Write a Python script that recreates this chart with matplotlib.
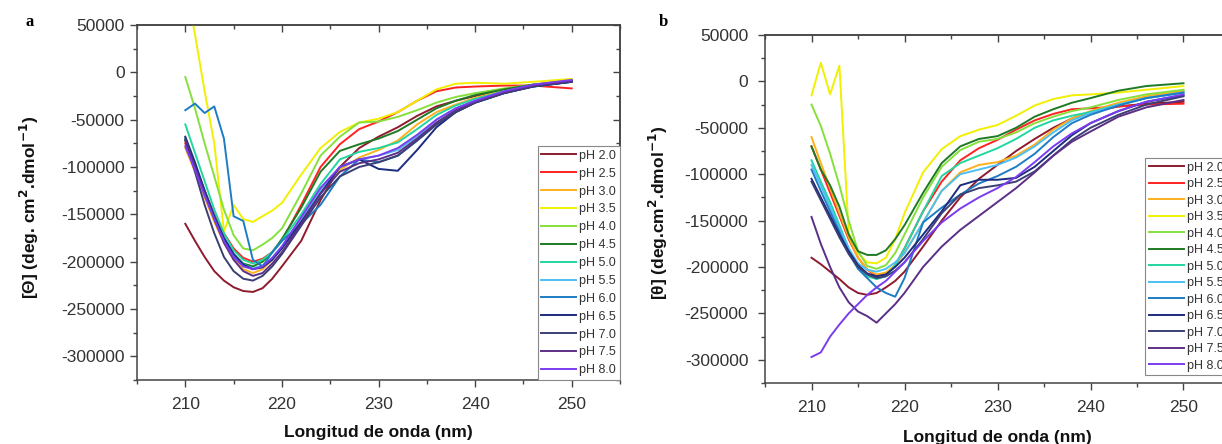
import matplotlib
matplotlib.use("Agg")
import matplotlib.pyplot as plt
from matplotlib.ticker import MultipleLocator, FixedLocator
import numpy as np

plt.rcParams['font.family'] = ['Liberation Sans', 'DejaVu Sans']
plt.rcParams['axes.unicode_minus'] = False

# ---------------- data ----------------
wavelength = [210, 211, 212, 213, 214, 215, 216, 217, 218, 219, 220,
              222, 224, 226, 228, 230, 232, 234, 236, 238, 240, 243, 246, 250]

ph_labels = ["pH 2.0", "pH 2.5", "pH 3.0", "pH 3.5", "pH 4.0", "pH 4.5", "pH 5.0",
             "pH 5.5", "pH 6.0", "pH 6.5", "pH 7.0", "pH 7.5", "pH 8.0"]

ph_colors = ["#8E1B2E", "#FF2222", "#FFB01E", "#F2F000", "#86E03C", "#1F7A24", "#22D6A0",
             "#4CC0F2", "#1E7CC4", "#1C2C7E", "#3B3F74", "#5B2F86", "#7A3CF0"]

# Panel a values (deg.cm2.dmol-1), thousands
a_ph20 = [-160, -178, -195, -210, -220, -227, -231, -232, -228, -218, -205, -178, -135, -100, -80, -68, -58, -46, -36, -30, -25, -19, -14, -9]
a_ph25 = [-75, -100, -125, -150, -170, -186, -196, -200, -197, -190, -178, -140, -100, -76, -60, -52, -42, -30, -20, -16, -15, -14, -14, -17]
a_ph30 = [-80, -105, -132, -158, -180, -197, -208, -212, -208, -198, -185, -155, -125, -103, -90, -82, -72, -55, -42, -34, -27, -19, -13, -8]
a_ph35 = [95, 40, -20, -75, -168, -140, -155, -158, -152, -146, -138, -108, -80, -63, -53, -49, -42, -30, -18, -12, -11, -12, -10, -7]
a_ph40 = [-5, -38, -75, -110, -145, -172, -186, -188, -182, -175, -165, -128, -88, -68, -53, -52, -47, -40, -32, -26, -22, -17, -13, -9]
a_ph45 = [-72, -98, -125, -152, -175, -192, -202, -205, -200, -190, -176, -143, -105, -83, -76, -70, -62, -50, -38, -30, -24, -18, -13, -9]
a_ph50 = [-55, -85, -115, -145, -170, -188, -198, -202, -198, -190, -178, -150, -118, -92, -84, -80, -74, -60, -45, -35, -28, -20, -14, -9]
a_ph55 = [-70, -98, -125, -152, -175, -192, -203, -207, -204, -196, -184, -155, -125, -100, -92, -88, -82, -68, -50, -38, -30, -21, -15, -10]
a_ph60 = [-40, -33, -43, -36, -70, -152, -157, -198, -205, -190, -178, -160, -140, -110, -92, -95, -88, -72, -55, -42, -32, -22, -15, -10]
a_ph65 = [-68, -95, -125, -152, -175, -192, -203, -208, -206, -198, -186, -158, -128, -100, -92, -102, -104, -82, -58, -42, -32, -22, -15, -10]
a_ph70 = [-70, -105, -140, -170, -195, -210, -218, -220, -215, -205, -192, -162, -132, -110, -100, -95, -88, -72, -55, -42, -32, -22, -15, -10]
a_ph75 = [-72, -100, -128, -155, -180, -198, -210, -215, -212, -202, -190, -160, -128, -105, -96, -92, -85, -70, -53, -40, -31, -21, -14, -9]
a_ph80 = [-78, -103, -130, -155, -178, -195, -205, -208, -205, -196, -184, -153, -122, -100, -92, -88, -80, -66, -50, -38, -30, -20, -13, -8]

# Panel b values, thousands
b_ph20 = [-190, -197, -205, -213, -222, -228, -230, -228, -222, -215, -205, -178, -150, -125, -105, -90, -75, -62, -50, -40, -33, -27, -24, -22]
b_ph25 = [-70, -95, -120, -145, -170, -190, -203, -210, -208, -198, -180, -140, -108, -85, -72, -63, -52, -42, -35, -30, -29, -27, -25, -24]
b_ph30 = [-60, -88, -115, -142, -168, -190, -203, -208, -206, -198, -185, -152, -118, -98, -90, -87, -80, -68, -52, -40, -32, -23, -16, -10]
b_ph35 = [-15, 20, -14, 17, -163, -185, -195, -196, -190, -170, -142, -98, -73, -59, -52, -47, -37, -26, -19, -15, -14, -12, -9, -5]
b_ph40 = [-25, -48, -78, -112, -150, -183, -199, -202, -198, -185, -165, -125, -92, -74, -65, -62, -55, -45, -38, -32, -28, -20, -14, -9]
b_ph45 = [-70, -95, -112, -135, -165, -183, -187, -187, -182, -170, -155, -120, -88, -70, -62, -59, -50, -38, -30, -23, -18, -10, -5, -2]
b_ph50 = [-85, -108, -130, -155, -180, -200, -210, -213, -210, -198, -180, -140, -102, -88, -80, -72, -62, -50, -42, -37, -33, -25, -18, -12]
b_ph55 = [-90, -112, -135, -158, -180, -196, -203, -205, -202, -195, -185, -152, -118, -100, -95, -90, -82, -70, -55, -42, -34, -25, -18, -12]
b_ph60 = [-95, -118, -140, -162, -185, -202, -212, -222, -228, -232, -212, -152, -136, -122, -110, -102, -92, -78, -60, -45, -36, -26, -18, -12]
b_ph65 = [-105, -125, -145, -165, -183, -198, -207, -210, -208, -200, -190, -165, -140, -112, -106, -106, -104, -92, -75, -58, -45, -32, -22, -15]
b_ph70 = [-108, -128, -148, -168, -186, -200, -208, -212, -210, -204, -195, -170, -142, -122, -115, -112, -108, -97, -80, -63, -50, -36, -25, -16]
b_ph75 = [-146, -175, -200, -222, -238, -248, -253, -260, -250, -240, -228, -200, -178, -160, -145, -130, -115, -98, -80, -65, -54, -38, -28, -20]
b_ph80 = [-297, -292, -275, -262, -250, -240, -230, -222, -215, -205, -195, -172, -152, -137, -125, -115, -103, -87, -70, -56, -45, -32, -22, -14]

panel_a = [a_ph20, a_ph25, a_ph30, a_ph35, a_ph40, a_ph45, a_ph50, a_ph55, a_ph60, a_ph65, a_ph70, a_ph75, a_ph80]
panel_b = [b_ph20, b_ph25, b_ph30, b_ph35, b_ph40, b_ph45, b_ph50, b_ph55, b_ph60, b_ph65, b_ph70, b_ph75, b_ph80]

x_ticks = [210, 220, 230, 240, 250]
y_ticks = [50000, 0, -50000, -100000, -150000, -200000, -250000, -300000]

# ---------------- figure ----------------
W, H = 1222, 444
fig = plt.figure(figsize=(W / 100, H / 100), dpi=100)


def px_axes(left, top, right, bottom):
    return fig.add_axes([left / W, 1 - bottom / H, (right - left) / W, (bottom - top) / H])


axA = px_axes(137, 25, 620, 380)
axB = px_axes(765, 35, 1230, 383)

spine_col = "#444444"
tick_col = "#333333"


def style(ax, ylabel, pad_y):
    ax.set_xlim(205, 255)
    ax.set_ylim(-325000, 50000)
    ax.xaxis.set_major_locator(FixedLocator(x_ticks))
    ax.xaxis.set_minor_locator(MultipleLocator(5))
    ax.yaxis.set_major_locator(FixedLocator(y_ticks))
    ax.yaxis.set_minor_locator(MultipleLocator(25000))
    ax.set_yticklabels([str(v) for v in y_ticks])
    for s in ax.spines.values():
        s.set_color(spine_col)
        s.set_linewidth(1.1)
    ax.tick_params(which='major', direction='out', length=5, width=1.0, color=spine_col,
                   labelcolor=tick_col, labelsize=12.5)
    ax.tick_params(which='minor', direction='out', length=3, width=1.0, color=spine_col)
    ax.tick_params(axis='x', which='major', pad=7)
    ax.tick_params(axis='y', which='major', pad=pad_y)
    top = ax.secondary_xaxis('top')
    top.xaxis.set_major_locator(FixedLocator(x_ticks))
    top.xaxis.set_minor_locator(MultipleLocator(5))
    top.tick_params(which='major', direction='in', length=5, width=1.0, color=spine_col, labeltop=False)
    top.tick_params(which='minor', direction='in', length=3, width=1.0, color=spine_col)
    top.spines['top'].set_color(spine_col)
    top.spines['top'].set_linewidth(1.1)
    right = ax.secondary_yaxis('right')
    right.yaxis.set_major_locator(FixedLocator(y_ticks))
    right.yaxis.set_minor_locator(MultipleLocator(25000))
    right.tick_params(which='major', direction='in', length=5, width=1.0, color=spine_col, labelright=False)
    right.tick_params(which='minor', direction='in', length=3, width=1.0, color=spine_col)
    right.spines['right'].set_color(spine_col)
    right.spines['right'].set_linewidth(1.1)
    ax.set_xlabel("Longitud de onda (nm)", fontsize=12.5, fontweight='bold', color='#111111')
    ax.set_ylabel(ylabel, fontsize=12.5, fontweight='bold', color='#111111')


style(axA, "[\u0398] (deg. cm$^{\\mathbf{2}}$.dmol$^{\\mathbf{-1}}$)", 4)
style(axB, "[\u03b8] (deg.cm$^{\\mathbf{2}}$.dmol$^{\\mathbf{-1}}$)", 7)

for ax, data in ((axA, panel_a), (axB, panel_b)):
    for vals, lab, col in zip(data, ph_labels, ph_colors):
        ax.plot(wavelength, np.array(vals) * 1000, color=col, lw=1.4, label=lab,
                solid_joinstyle='round')

axA.yaxis.set_label_coords(-0.199, 0.485)
axA.xaxis.set_label_coords(0.5, -0.127)
axB.yaxis.set_label_coords(-0.204, 0.489)
axB.xaxis.set_label_coords(0.5, -0.135)

leg_kw = dict(fontsize=9, handlelength=2.8, handletextpad=0.25,
              borderpad=0.3, frameon=True, fancybox=False, framealpha=1,
              edgecolor='#888888', borderaxespad=0)
legA = axA.legend(loc='lower right', bbox_to_anchor=(1.0, 0.0), labelspacing=0.47, **leg_kw)
legB = axB.legend(loc='upper left', bbox_to_anchor=(0.817, 0.6466), labelspacing=0.36, **leg_kw)
for leg in (legA, legB):
    leg.get_frame().set_linewidth(0.8)
    for t in leg.get_texts():
        t.set_color('#333333')

fig.text(30 / W, 1 - 22 / H, "a", fontsize=12, fontweight='bold', family='Liberation Serif',
         ha='center', va='center')
fig.text(663 / W, 1 - 22 / H, "b", fontsize=12, fontweight='bold', family='Liberation Serif',
         ha='center', va='center')

fig.savefig("out.png", dpi=100)
